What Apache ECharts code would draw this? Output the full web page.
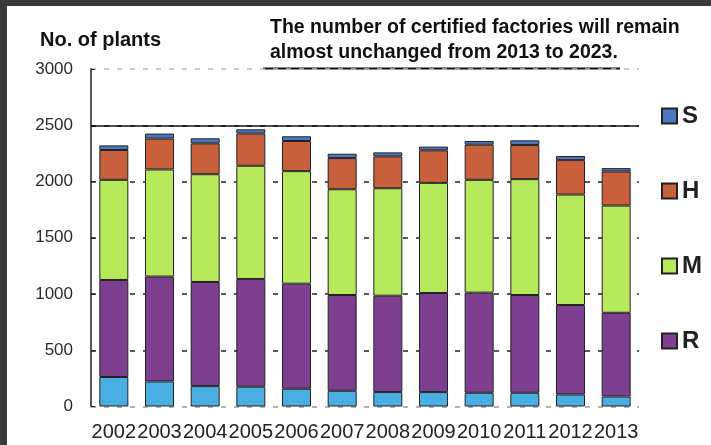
<!DOCTYPE html>
<html>
<head>
<meta charset="utf-8">
<script src="https://cdn.jsdelivr.net/npm/echarts@6/dist/echarts.min.js"></script>
<style>
  html,body{margin:0;padding:0;background:#fff;}
  #main{width:711px;height:445px;}
</style>
</head>
<body>
<div id="main"></div>
<script>
// years on the x axis
var years = ['2002','2003','2004','2005','2006','2007','2008','2009','2010','2011','2012','2013'];
// stacked segments, bottom to top
var other = [262, 223, 181, 176, 158, 140, 128, 128, 122, 122, 107, 89];
var valR = [863, 932, 926, 958, 934, 851, 857, 881, 890, 869, 795, 744];
var valM = [890, 952, 958, 1006, 1000, 940, 955, 979, 1003, 1030, 982, 953];
var valH = [265, 274, 274, 286, 268, 277, 283, 289, 312, 303, 306, 303];
var valS = [41, 45, 45, 38, 42, 39, 36, 33, 33, 42, 36, 30];

var sans = "'Liberation Sans', Arial, sans-serif";

function seg(name, data, color) {
    return {
        name: name,
        type: 'bar',
        stack: 'all',
        barWidth: 29,
        data: data,
        itemStyle: {color: color, borderColor: '#222', borderWidth: 1},
        emphasis: {disabled: true}
    };
}

var series = [
    seg('other', other, '#4aaee3'),
    seg('R', valR, '#7d3f8f'),
    seg('M', valM, '#b8e85c'),
    seg('H', valH, '#c8603c'),
    seg('S', valS, '#4a78c0')
];
// solid line at 2500
series[0].markLine = {
    silent: true,
    symbol: 'none',
    label: {show: false},
    lineStyle: {color: '#111', type: 'solid', width: 1.5},
    data: [{yAxis: 2500}]
};

var chart = echarts.init(document.getElementById('main'));
chart.setOption({
    animation: false,
    backgroundColor: '#fff',
    grid: {left: 91, right: 72, top: 69, bottom: 38.5},
    legend: {
        data: ['S', 'H', 'M', 'R'],
        orient: 'vertical',
        left: 656,
        top: 99,
        icon: 'rect',
        itemWidth: 15,
        itemHeight: 15,
        itemGap: 51,
        textStyle: {fontSize: 24, fontWeight: 'bold', color: '#222', fontFamily: sans, lineHeight: 24}
    },
    xAxis: {
        type: 'category',
        data: years,
        axisLine: {show: false},
        axisTick: {show: false},
        axisLabel: {interval: 0, margin: 16, fontSize: 20, color: '#222', fontFamily: sans}
    },
    yAxis: {
        type: 'value',
        min: 0,
        max: 3000,
        interval: 500,
        axisLine: {show: true, lineStyle: {color: '#222', width: 1.5}},
        axisTick: {show: true, inside: true, length: 4, lineStyle: {color: '#222'}},
        axisLabel: {margin: 18, fontSize: 17, color: '#2a2a2a', fontFamily: sans,
            formatter: function (v) { return String(v); }},
        splitLine: {
            show: true,
            lineStyle: {
                type: [5, 8],
                width: 1.5,
                color: ['#999', '#222', '#222', '#222', '#222', '#222', '#bbb']
            }
        }
    },
    graphic: [
        {type: 'rect', shape: {x: 0, y: 0, width: 7, height: 445}, style: {fill: '#3a3a3a'}, silent: true},
        {type: 'rect', shape: {x: 0, y: 0, width: 711, height: 6}, style: {fill: '#3a3a3a'}, silent: true},
        {type: 'text', left: 40, top: 30, style: {text: 'No. of plants', fontSize: 20, fontWeight: 'bold', fill: '#111', fontFamily: sans}},
        {type: 'text', left: 270, top: 18, style: {text: 'The number of certified factories will remain', fontSize: 19.5, fontWeight: 'bold', fill: '#111', fontFamily: sans}},
        {type: 'text', left: 270, top: 43, style: {text: 'almost unchanged from 2013 to 2023.', fontSize: 19.5, fontWeight: 'bold', fill: '#111', fontFamily: sans}},
        {type: 'line', shape: {x1: 263, y1: 68.5, x2: 620, y2: 68.5}, style: {stroke: '#111', lineWidth: 2}, silent: true}
    ],
    series: series
});
</script>
</body>
</html>
